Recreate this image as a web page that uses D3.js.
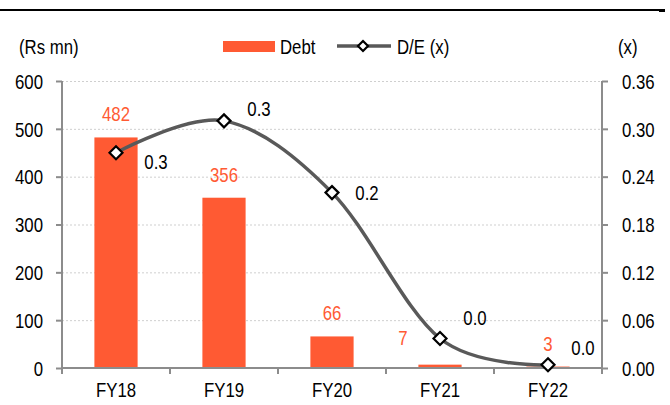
<!DOCTYPE html>
<html>
<head>
<meta charset="utf-8">
<script src="https://cdn.jsdelivr.net/npm/d3@7/dist/d3.min.js"></script>
<style>
  html, body { margin: 0; padding: 0; background: #fff; }
  svg { display: block; }
  text { font-family: "Liberation Sans", Arial, sans-serif; font-size: 20px; fill: #000; }
</style>
</head>
<body>
<svg id="chart" width="670" height="405"></svg>
<script>
// Debt (Rs mn) and debt/equity ratio by fiscal year
const years = ["FY18", "FY19", "FY20", "FY21", "FY22"];
const debt = [482, 356, 66, 7, 3];
const debtToEquity = [0.27, 0.31, 0.22, 0.037, 0.004];
const leftTicks = [0, 100, 200, 300, 400, 500, 600];
const rightTicks = [0, 0.06, 0.12, 0.18, 0.24, 0.30, 0.36];

// label nudges (px) so labels sit clear of the line
const debtLabelNudge = [[0, 0], [0, 0], [0, 0], [-37, -4], [0, 0]];
const ratioLabelNudge = [[40, 9], [35, -12], [35, 0], [35, -21], [35, -17]];

const ORANGE = "#FF5A33";
const LINE = "#595959";
const AXIS = "#8c8c8c";
const NARROW = 0.84; // horizontal squeeze giving a narrow sans face

const svg = d3.select("#chart");
const plotL = 62, plotR = 602, plotT = 81, plotB = 368;

const x = d3.scaleBand().domain(years).range([plotL, plotR]).padding(0);
const y = d3.scaleLinear().domain([0, 600]).range([plotB, plotT]);
const y2 = d3.scaleLinear().domain([0, 0.36]).range([plotB, plotT]);
const barW = x.bandwidth() * 0.4;
const cx = d => x(d) + x.bandwidth() / 2;

// condense text: move its anchor point into a transform, then squeeze horizontally
function narrow(sel) {
  sel.each(function () {
    const t = d3.select(this);
    const tx = +t.attr("x") || 0, ty = +t.attr("y") || 0;
    t.attr("x", 0).attr("y", 0).attr("transform", `translate(${tx},${ty}) scale(${NARROW},1)`);
  });
}

// header rule
svg.append("line").attr("x1", 0).attr("x2", 660).attr("y1", 10).attr("y2", 10)
  .attr("stroke", "#000").attr("stroke-width", 2);
svg.append("rect").attr("x", 659).attr("y", 9).attr("width", 6).attr("height", 3).attr("fill", "#000");

// gridlines
svg.append("g").selectAll("line").data(leftTicks.filter(t => t > 0)).join("line")
  .attr("x1", plotL).attr("x2", plotR)
  .attr("y1", d => y(d) + 0.5).attr("y2", d => y(d) + 0.5)
  .attr("stroke", "#cfcfcf").attr("stroke-width", 1).attr("stroke-dasharray", "2,2");

// bars
svg.append("g").selectAll("rect").data(debt).join("rect")
  .attr("x", (d, i) => cx(years[i]) - barW / 2)
  .attr("width", barW)
  .attr("y", d => y(d))
  .attr("height", d => plotB - y(d))
  .attr("fill", ORANGE);

// left axis
const leftAxis = d3.axisLeft(y).tickValues(leftTicks).tickSize(6).tickPadding(13).tickFormat(d3.format("d"));
const gl = svg.append("g").attr("transform", `translate(${plotL},0)`).call(leftAxis);
// right axis
const rightAxis = d3.axisRight(y2).tickValues(rightTicks).tickSize(6).tickPadding(14).tickFormat(d3.format(".2f"));
const gr = svg.append("g").attr("transform", `translate(${plotR},0)`).call(rightAxis);
[gl, gr].forEach(g => {
  g.select(".domain").attr("stroke", AXIS).attr("stroke-width", 2).attr("d", `M0,${plotT}V${plotB}`);
  g.selectAll(".tick line").attr("stroke", AXIS).attr("stroke-width", 2);
  g.selectAll(".tick text").attr("font-size", 20).attr("font-family", null).attr("fill", "#000").attr("dy", "0.36em")
    .call(narrow);
});

// bottom axis with ticks at category boundaries
const gx = svg.append("g");
gx.append("line").attr("x1", plotL - 1).attr("x2", plotR + 1).attr("y1", plotB).attr("y2", plotB)
  .attr("stroke", AXIS).attr("stroke-width", 2);
const bounds = years.map(d => x(d)).concat([x(years[years.length - 1]) + x.bandwidth()]);
gx.selectAll("line.t").data(bounds).join("line").attr("class", "t")
  .attr("x1", d => d).attr("x2", d => d).attr("y1", plotB).attr("y2", plotB + 6)
  .attr("stroke", AXIS).attr("stroke-width", 2);
gx.selectAll("text").data(years).join("text")
  .attr("x", d => cx(d)).attr("y", 397).attr("text-anchor", "middle").text(d => d)
  .call(narrow);

// bar value labels
svg.append("g").selectAll("text").data(debt).join("text")
  .attr("x", (d, i) => cx(years[i]) + debtLabelNudge[i][0])
  .attr("y", (d, i) => y(d) - 16 + debtLabelNudge[i][1])
  .attr("text-anchor", "middle").style("fill", ORANGE)
  .text(d => d)
  .call(narrow);

// D/E line
const line = d3.line().x((d, i) => cx(years[i])).y(d => y2(d)).curve(d3.curveCardinal.tension(0));
svg.append("path").datum(debtToEquity).attr("d", line)
  .attr("fill", "none").attr("stroke", LINE).attr("stroke-width", 3.5).attr("stroke-linecap", "round");

const diamond = r => `M0,${-r}L${r},0L0,${r}L${-r},0Z`;
svg.append("g").selectAll("path").data(debtToEquity).join("path")
  .attr("transform", (d, i) => `translate(${cx(years[i])},${y2(d)})`)
  .attr("d", diamond(6.5))
  .attr("fill", "#fff").attr("stroke", "#000").attr("stroke-width", 2.2);

svg.append("g").selectAll("text").data(debtToEquity).join("text")
  .attr("x", (d, i) => cx(years[i]) + ratioLabelNudge[i][0])
  .attr("y", (d, i) => y2(d) + ratioLabelNudge[i][1])
  .attr("dy", "0.36em").attr("text-anchor", "middle")
  .text(d => d3.format(".1f")(d))
  .call(narrow);

// axis titles
svg.append("text").attr("x", 19).attr("y", 47).attr("dy", "0.36em").text("(Rs mn)").call(narrow);
svg.append("text").attr("x", 618).attr("y", 47).attr("dy", "0.36em").text("(x)").call(narrow);

// legend
const lg = svg.append("g");
lg.append("rect").attr("x", 223).attr("y", 41).attr("width", 52).attr("height", 11).attr("fill", ORANGE);
lg.append("text").attr("x", 280).attr("y", 47).attr("dy", "0.36em").text("Debt").call(narrow);
lg.append("line").attr("x1", 337).attr("x2", 391).attr("y1", 46).attr("y2", 46)
  .attr("stroke", LINE).attr("stroke-width", 3.5);
lg.append("path").attr("transform", "translate(363,46)").attr("d", diamond(5))
  .attr("fill", "#fff").attr("stroke", "#000").attr("stroke-width", 2.2);
lg.append("text").attr("x", 397).attr("y", 47).attr("dy", "0.36em").text("D/E (x)").call(narrow);
</script>
</body>
</html>
